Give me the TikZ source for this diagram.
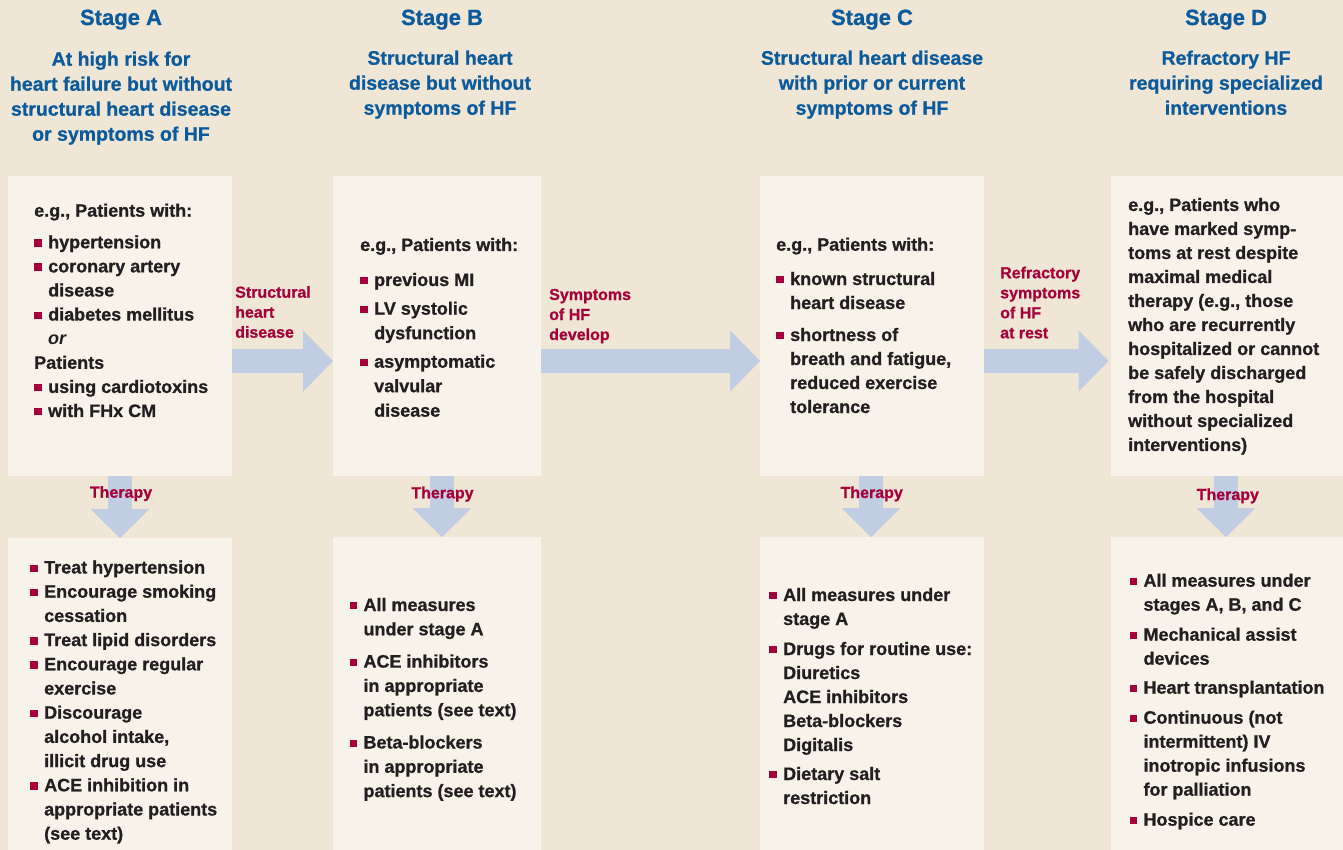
\documentclass[tikz,border=0pt]{standalone}
\usepackage{fontspec}
\setmainfont{Liberation Sans}[BoldFeatures={FakeBold=0.8}]
\usetikzlibrary{arrows.meta}
\definecolor{hfbg}{HTML}{F0E6D5}
\definecolor{hfbox}{HTML}{F7F3EB}
\definecolor{hfblue}{HTML}{0A5A9C}
\definecolor{hfred}{HTML}{A5003A}
\definecolor{hfarrow}{HTML}{C0CDE3}
\definecolor{hftext}{HTML}{231F20}
\setlength{\parskip}{0pt}
\setlength{\parindent}{0pt}
\newcommand\hfsq{\textcolor{hfred}{\rule[1.6pt]{7.3pt}{7.3pt}}}
\newcommand\bi[1]{\par\noindent\makebox[14pt][l]{\hfsq}#1}
\newcommand\ci[1]{\par\noindent\hspace*{14pt}#1}
\newcommand\pl[1]{\par\noindent #1}
\newcommand\gp[1]{\par\vspace{#1pt}}
\tikzset{
  box/.style={fill=hfbox, draw=none, inner sep=0pt, anchor=north west},
  ttl/.style={anchor=base, inner sep=0pt, text=hfblue, font=\fontsize{22}{26}\selectfont\bfseries},
  sub/.style={anchor=base, inner sep=0pt, text=hfblue, font=\fontsize{19.5}{25}\selectfont\bfseries},
  lbl/.style={anchor=base west, inner sep=0pt, text=hfred, font=\fontsize{16}{20}\selectfont\bfseries},
  thr/.style={anchor=base, inner sep=0pt, text=hfred, font=\fontsize{16}{20}\selectfont\bfseries},
  body/.style={anchor=base west, inner sep=0pt, text=hftext, font=\fontsize{18}{24}\selectfont\bfseries},
  harrow/.style={draw=hfarrow, line width=24.5pt, -{Triangle[length=30pt,width=61.5pt,line width=0pt]}},
  varrow/.style={draw=hfarrow, line width=24pt, -{Triangle[length=29pt,width=59pt,line width=0pt]}},
}
\begin{document}
\begin{tikzpicture}[x=1pt,y=-1pt]
\useasboundingbox (0,0) rectangle (1343,850);
\fill[hfbg] (0,0) rectangle (1343,850);

% boxes
\node[box, minimum width=224pt, minimum height=300pt] (A1) at (8,176) {};
\node[box, minimum width=224pt, minimum height=312pt] (A2) at (8,538) {};
\node[box, minimum width=208pt, minimum height=300pt] (B1) at (333,176) {};
\node[box, minimum width=208pt, minimum height=313pt] (B2) at (333,537) {};
\node[box, minimum width=224pt, minimum height=300pt] (C1) at (760,176) {};
\node[box, minimum width=224pt, minimum height=313pt] (C2) at (760,537) {};
\node[box, minimum width=232pt, minimum height=300pt] (D1) at (1111,176) {};
\node[box, minimum width=232pt, minimum height=313pt] (D2) at (1111,537) {};

% arrow guide coordinates
\coordinate (hy) at (0,361);
\coordinate (vA) at (120,0);
\coordinate (vB) at (442,0);
\coordinate (vC) at (871,0);
\coordinate (vD) at (1226,0);

% horizontal arrows
\draw[harrow] (A1.east |- hy) -- (B1.west |- hy);
\draw[harrow] (B1.east |- hy) -- (C1.west |- hy);
\draw[harrow, shorten >=2.5pt] (C1.east |- hy) -- (D1.west |- hy);

% vertical arrows
\draw[varrow] (A1.south -| vA) -- (A2.north -| vA);
\draw[varrow] (B1.south -| vB) -- (B2.north -| vB);
\draw[varrow] (C1.south -| vC) -- (C2.north -| vC);
\draw[varrow] (D1.south -| vD) -- (D2.north -| vD);

% titles
\node[ttl] (tA) at (121,25) {Stage A};
\node[ttl] (tB) at (442,25) {Stage B};
\node[ttl] (tC) at (872,25) {Stage C};
\node[ttl] (tD) at (1226,25) {Stage D};

% subtitles
\node[sub] (sA) at (121,65.7) {\parbox[t]{280pt}{\centering At high risk for\\heart failure but without\\structural heart disease\\or symptoms of HF}};
\node[sub] (sB) at (440,64.7) {\parbox[t]{280pt}{\centering Structural heart\\disease but without\\symptoms of HF}};
\node[sub] (sC) at (872,64.7) {\parbox[t]{280pt}{\centering Structural heart disease\\with prior or current\\symptoms of HF}};
\node[sub] (sD) at (1226,64.7) {\parbox[t]{280pt}{\centering Refractory HF\\requiring specialized\\interventions}};

% transition labels
\node[lbl] (lAB) at (235,297.7) {\parbox[t]{120pt}{Structural\\heart\\disease}};
\node[lbl] (lBC) at (549,300) {\parbox[t]{120pt}{Symptoms\\of HF\\develop}};
\node[lbl] (lCD) at (1000,278.3) {\parbox[t]{120pt}{Refractory\\symptoms\\of HF\\at rest}};

% therapy labels
\node[thr] (thA) at (121,497.7) {Therapy};
\node[thr] (thB) at (442.5,498.3) {Therapy};
\node[thr] (thC) at (871.7,498) {Therapy};
\node[thr] (thD) at (1227.8,500) {Therapy};

% top box texts
\node[body, font=\fontsize{18}{24.1}\selectfont\bfseries] (xA1) at (34,216.7) {\parbox[t]{220pt}{%
\pl{e.g., Patients with:}\gp{7.5}%
\bi{hypertension}%
\bi{coronary artery}%
\ci{disease}%
\bi{diabetes mellitus}%
\ci{\textit{or}}%
\pl{Patients}%
\bi{using cardiotoxins}%
\bi{with FHx CM}}};

\node[body, font=\fontsize{18}{24.5}\selectfont\bfseries] (xB1) at (360,251) {\parbox[t]{220pt}{%
\pl{e.g., Patients with:}\gp{10.5}%
\bi{previous MI}\gp{4.2}%
\bi{LV systolic}%
\ci{dysfunction}\gp{4}%
\bi{asymptomatic}%
\ci{valvular}%
\ci{disease}}};

\node[body] (xC1) at (776,250.7) {\parbox[t]{220pt}{%
\pl{e.g., Patients with:}\gp{10.3}%
\bi{known structural}%
\ci{heart disease}\gp{8}%
\bi{shortness of}%
\ci{breath and fatigue,}%
\ci{reduced exercise}%
\ci{tolerance}}};

\node[body] (xD1) at (1128,211) {\parbox[t]{230pt}{%
\pl{e.g., Patients who}%
\pl{have marked symp-}%
\pl{toms at rest despite}%
\pl{maximal medical}%
\pl{therapy (e.g., those}%
\pl{who are recurrently}%
\pl{hospitalized or cannot}%
\pl{be safely discharged}%
\pl{from the hospital}%
\pl{without specialized}%
\pl{interventions)}}};

% bottom box texts
\node[body, font=\fontsize{18}{24.2}\selectfont\bfseries] (xA2) at (30,573.5) {\parbox[t]{220pt}{%
\bi{Treat hypertension}%
\bi{Encourage smoking}%
\ci{cessation}%
\bi{Treat lipid disorders}%
\bi{Encourage regular}%
\ci{exercise}%
\bi{Discourage}%
\ci{alcohol intake,}%
\ci{illicit drug use}%
\bi{ACE inhibition in}%
\ci{appropriate patients}%
\ci{(see text)}}};

\node[body, font=\fontsize{18}{24.3}\selectfont\bfseries] (xB2) at (349.3,611) {\parbox[t]{220pt}{%
\bi{All measures}%
\ci{under stage A}\gp{8}%
\bi{ACE inhibitors}%
\ci{in appropriate}%
\ci{patients (see text)}\gp{8}%
\bi{Beta-blockers}%
\ci{in appropriate}%
\ci{patients (see text)}}};

\node[body] (xC2) at (769,601) {\parbox[t]{230pt}{%
\bi{All measures under}%
\ci{stage A}\gp{6}%
\bi{Drugs for routine use:}%
\ci{Diuretics}%
\ci{ACE inhibitors}%
\ci{Beta-blockers}%
\ci{Digitalis}\gp{5}%
\bi{Dietary salt}%
\ci{restriction}}};

\node[body] (xD2) at (1129.3,586.7) {\parbox[t]{230pt}{%
\bi{All measures under}%
\ci{stages A, B, and C}\gp{6}%
\bi{Mechanical assist}%
\ci{devices}\gp{5}%
\bi{Heart transplantation}\gp{6}%
\bi{Continuous (not}%
\ci{intermittent) IV}%
\ci{inotropic infusions}%
\ci{for palliation}\gp{6}%
\bi{Hospice care}}};
\end{tikzpicture}
\end{document}
